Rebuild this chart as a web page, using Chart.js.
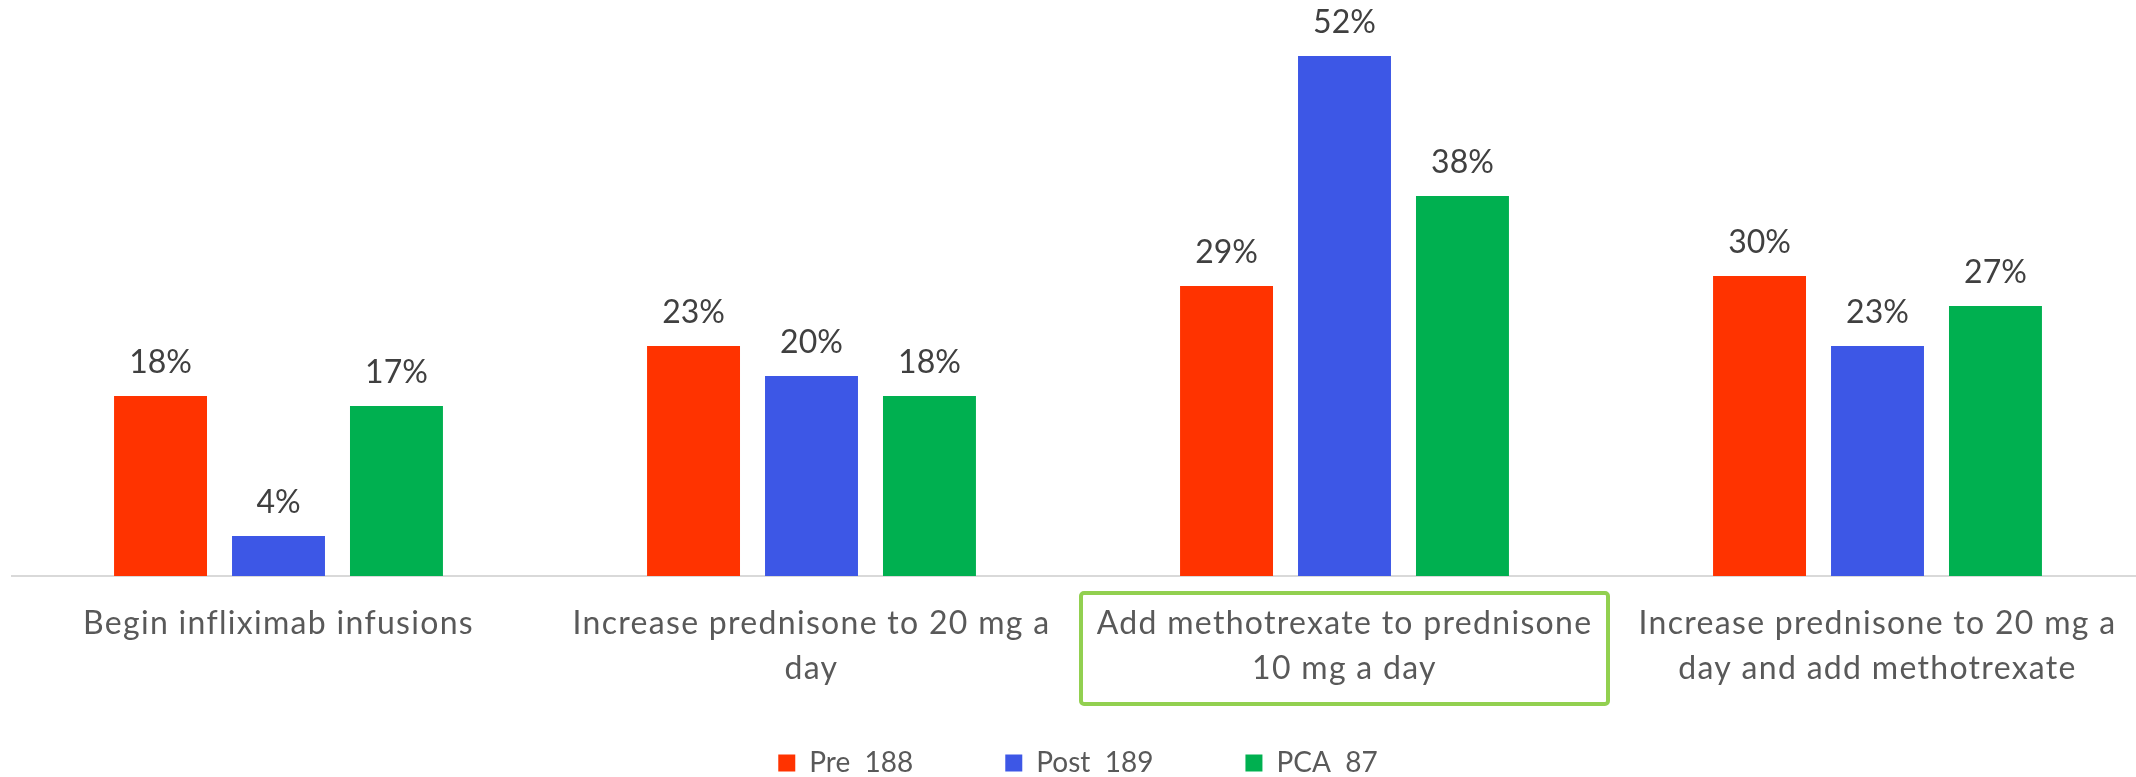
<!DOCTYPE html>
<html>
<head>
<meta charset="utf-8">
<title>Treatment choice by group</title>
<script src="https://cdn.jsdelivr.net/npm/chart.js@4/dist/chart.umd.min.js"></script>
<style>
  html, body { margin: 0; padding: 0; background: #ffffff; overflow: hidden; }
  canvas { display: block; }
</style>
</head>
<body>
<canvas id="chart" width="2144" height="777"></canvas>
<script>
// Category labels (split into lines as they wrap under the axis)
const categories = [
  ['Begin infliximab infusions'],
  ['Increase prednisone to 20 mg a', 'day'],
  ['Add methotrexate to prednisone', '10 mg a day'],
  ['Increase prednisone to 20 mg a', 'day and add methotrexate']
];

// Series names with group sizes
const seriesNames = ['Pre  188', 'Post  189', 'PCA  87'];

// Percent choosing each option
const preValues = [18, 23, 29, 30];
const postValues = [4, 20, 52, 23];
const pcaValues = [17, 18, 38, 27];

// Option singled out with a frame around its label
const highlightedIndex = 2;

const seriesColors = ['#FF3300', '#3D57E6', '#00B050'];

// Percent labels above each bar
const barValueLabels = {
  id: 'barValueLabels',
  afterDatasetsDraw(chart) {
    const ctx = chart.ctx;
    ctx.save();
    ctx.font = '32px Lato';
    ctx.fillStyle = '#404040';
    ctx.textAlign = 'center';
    ctx.textBaseline = 'alphabetic';
    chart.data.datasets.forEach((ds, i) => {
      chart.getDatasetMeta(i).data.forEach((bar, j) => {
        ctx.fillText(ds.data[j] + '%', bar.x, bar.y - 23);
      });
    });
    ctx.restore();
  }
};

// Green frame around one category label
const categoryFrame = {
  id: 'categoryFrame',
  afterDraw(chart, args, opts) {
    const xs = chart.scales.x;
    const cx = xs.getPixelForValue(opts.index);
    const step = xs.width / chart.data.labels.length;
    const half = step / 2 - 3;
    const axisY = chart.chartArea.bottom;
    const top = axisY + 17;
    const bottom = axisY + 128;
    const ctx = chart.ctx;
    ctx.save();
    ctx.strokeStyle = '#92D050';
    ctx.lineWidth = 4;
    ctx.beginPath();
    if (ctx.roundRect) {
      ctx.roundRect(cx - half, top, half * 2, bottom - top, 3);
    } else {
      ctx.rect(cx - half, top, half * 2, bottom - top);
    }
    ctx.stroke();
    ctx.restore();
  }
};

// Fixed band heights below the plot: legend band, unclipped two-line axis labels
// and a slightly tracked-out axis label font
const bandSizing = {
  id: 'bandSizing',
  beforeLayout(chart, args, opts) {
    const lg = chart.legend;
    if (lg && !lg._fixedHeight) {
      const fit = lg.fit.bind(lg);
      lg.fit = function () { fit(); this.height = opts.legendHeight; };
      lg._fixedHeight = true;
    }
  },
  afterLayout(chart, args, opts) {
    const xs = chart.scales.x;
    if (xs && !xs._tracked) {
      const drawLabels = xs.drawLabels.bind(xs);
      xs._computeLabelArea = function () { return undefined; };
      xs.drawLabels = function (area) {
        const c = this.ctx;
        const prev = c.letterSpacing;
        c.letterSpacing = opts.labelTracking;
        drawLabels(area);
        c.letterSpacing = prev;
      };
      xs._tracked = true;
    }
  }
};

function draw() {
  Chart.defaults.font.family = 'Lato, "Open Sans", sans-serif';
  new Chart(document.getElementById('chart'), {
    type: 'bar',
    data: {
      labels: categories,
      datasets: [
        { label: seriesNames[0], data: preValues, backgroundColor: seriesColors[0] },
        { label: seriesNames[1], data: postValues, backgroundColor: seriesColors[1] },
        { label: seriesNames[2], data: pcaValues, backgroundColor: seriesColors[2] }
      ]
    },
    options: {
      responsive: false,
      animation: false,
      devicePixelRatio: 1,
      categoryPercentage: 0.664,
      barPercentage: 0.788,
      layout: { padding: { top: 6, left: 12, right: 0, bottom: 0 } },
      scales: {
        x: {
          grid: { display: false, drawTicks: false },
          border: { display: true, color: '#D9D9D9', width: 2 },
          ticks: {
            color: '#595959',
            font: { size: 32, lineHeight: 1.406 },
            padding: 25,
            maxRotation: 0,
            minRotation: 0,
            autoSkip: false
          },
          afterFit(scale) { scale.height = 81; }
        },
        y: {
          display: false,
          min: 0,
          max: 57
        }
      },
      plugins: {
        legend: {
          position: 'bottom',
          labels: {
            boxWidth: 17,
            boxHeight: 17,
            padding: 92,
            color: '#595959',
            font: { size: 28 }
          }
        },
        tooltip: { enabled: false },
        categoryFrame: { index: highlightedIndex },
        bandSizing: { legendHeight: 120, labelTracking: '1.3px' }
      }
    },
    plugins: [barValueLabels, categoryFrame, bandSizing]
  });
}

if (document.fonts && document.fonts.load) {
  Promise.all([
    document.fonts.load('32px Lato'),
    document.fonts.load('28px Lato')
  ]).then(draw, draw);
} else {
  draw();
}
</script>
</body>
</html>
